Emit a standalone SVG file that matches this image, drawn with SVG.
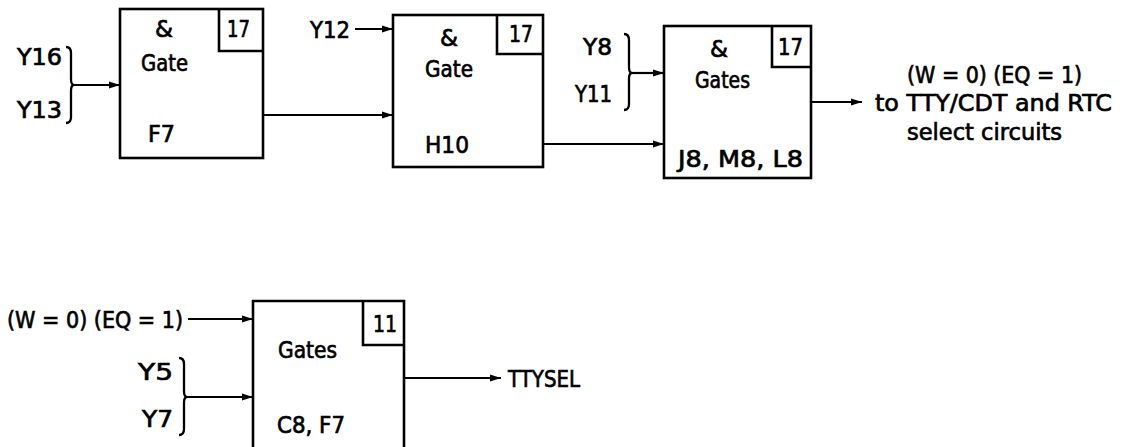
<svg xmlns="http://www.w3.org/2000/svg" width="1124" height="447" viewBox="0 0 1124 447">
<defs>
<marker id="arr" markerUnits="userSpaceOnUse" markerWidth="12" markerHeight="8" refX="11" refY="4" orient="auto">
<path d="M0,0.5 L11,4 L0,7.5 Z" fill="#000"/>
</marker>
<style>
.box{fill:#fff;stroke:#000;stroke-width:2.6}
.sm{fill:none;stroke:#000;stroke-width:2.6}
.ln{fill:none;stroke:#000;stroke-width:2.2}
.br{fill:none;stroke:#000;stroke-width:2.3}
text{font-family:"DejaVu Sans","Liberation Sans",sans-serif;font-size:23px;fill:#000;stroke:#000;stroke-width:0.7}
</style>
</defs>
<rect width="1124" height="447" fill="#fff"/>

<g id="gate-f7">
<rect class="box" x="120" y="9" width="143" height="149"/>
<path class="sm" d="M219,9 V51 H263"/>
<text x="227" y="37" textLength="23" lengthAdjust="spacingAndGlyphs">17</text>
<text x="155" y="37" textLength="18" lengthAdjust="spacingAndGlyphs">&amp;</text>
<text x="141" y="71" textLength="47" lengthAdjust="spacingAndGlyphs">Gate</text>
<text x="148" y="142" textLength="27" lengthAdjust="spacingAndGlyphs">F7</text>
</g>

<g id="gate-h10">
<rect class="box" x="393" y="15" width="150" height="152"/>
<path class="sm" d="M497,15 V54 H543"/>
<text x="509" y="42" textLength="24" lengthAdjust="spacingAndGlyphs">17</text>
<text x="440" y="46" textLength="18" lengthAdjust="spacingAndGlyphs">&amp;</text>
<text x="425" y="77" textLength="48" lengthAdjust="spacingAndGlyphs">Gate</text>
<text x="425" y="153" textLength="44" lengthAdjust="spacingAndGlyphs">H10</text>
</g>

<g id="gates-j8">
<rect class="box" x="664" y="26" width="147" height="152"/>
<path class="sm" d="M772,26 V67 H811"/>
<text x="778" y="55" textLength="25" lengthAdjust="spacingAndGlyphs">17</text>
<text x="710" y="57" textLength="18" lengthAdjust="spacingAndGlyphs">&amp;</text>
<text x="695" y="88" textLength="55" lengthAdjust="spacingAndGlyphs">Gates</text>
<text x="678" y="167" textLength="125" lengthAdjust="spacingAndGlyphs">J8, M8, L8</text>
</g>

<g id="gates-c8">
<path class="box" d="M253,447 V301 H404 V447"/>
<path class="sm" d="M363,301 V345 H404"/>
<text x="373" y="332" textLength="24" lengthAdjust="spacingAndGlyphs">11</text>
<text x="278" y="358" textLength="59" lengthAdjust="spacingAndGlyphs">Gates</text>
<text x="277" y="433" textLength="68" lengthAdjust="spacingAndGlyphs">C8, F7</text>
</g>

<g id="labels">
<text x="17" y="65" textLength="45" lengthAdjust="spacingAndGlyphs">Y16</text>
<text x="17" y="118" textLength="45" lengthAdjust="spacingAndGlyphs">Y13</text>
<text x="310" y="38" textLength="40" lengthAdjust="spacingAndGlyphs">Y12</text>
<text x="583" y="55" textLength="29" lengthAdjust="spacingAndGlyphs">Y8</text>
<text x="575" y="102" textLength="37" lengthAdjust="spacingAndGlyphs">Y11</text>
<text x="907" y="83" textLength="175" lengthAdjust="spacingAndGlyphs">(W = 0)  (EQ = 1)</text>
<text x="875" y="111" textLength="237" lengthAdjust="spacingAndGlyphs">to TTY/CDT and RTC</text>
<text x="907" y="140" textLength="155" lengthAdjust="spacingAndGlyphs">select circuits</text>
<text x="7" y="328" textLength="176" lengthAdjust="spacingAndGlyphs">(W = 0)  (EQ = 1)</text>
<text x="138" y="380" textLength="35" lengthAdjust="spacingAndGlyphs">Y5</text>
<text x="142" y="427" textLength="31" lengthAdjust="spacingAndGlyphs">Y7</text>
<text x="508" y="387" textLength="72" lengthAdjust="spacingAndGlyphs">TTYSEL</text>
</g>

<g id="connectors">
<path class="br" d="M66,47 Q71,47 71,53 L71,79 Q71,85 74,85 Q71,85 71,91 L71,117 Q71,123 66,123"/>
<line class="ln" x1="73" y1="85" x2="120" y2="85" marker-end="url(#arr)"/>
<line class="ln" x1="355" y1="29" x2="393" y2="29" marker-end="url(#arr)"/>
<line class="ln" x1="263" y1="115" x2="393" y2="115" marker-end="url(#arr)"/>
<path class="br" d="M624,34 Q629,34 629,40 L629,67 Q629,73 632,73 Q629,73 629,79 L629,104 Q629,110 624,110"/>
<line class="ln" x1="632" y1="73" x2="664" y2="73" marker-end="url(#arr)"/>
<line class="ln" x1="543" y1="144" x2="664" y2="144" marker-end="url(#arr)"/>
<line class="ln" x1="811" y1="102" x2="862" y2="102" marker-end="url(#arr)"/>
<line class="ln" x1="188" y1="319" x2="253" y2="319" marker-end="url(#arr)"/>
<path class="br" d="M179,358 Q184,358 184,364 L184,391 Q184,397 187,397 Q184,397 184,403 L184,429 Q184,435 179,435"/>
<line class="ln" x1="187" y1="397" x2="253" y2="397" marker-end="url(#arr)"/>
<line class="ln" x1="404" y1="378" x2="501" y2="378" marker-end="url(#arr)"/>
</g>
</svg>
